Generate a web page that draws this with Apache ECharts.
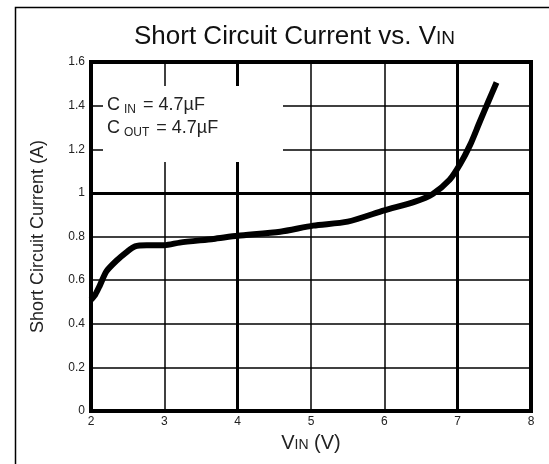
<!DOCTYPE html>
<html>
<head>
<meta charset="utf-8">
<script src="https://cdn.jsdelivr.net/npm/echarts@6/dist/echarts.min.js"></script>
<style>
html, body { margin: 0; padding: 0; background: #fff; }
#chart { width: 549px; height: 464px; }
</style>
</head>
<body>
<div id="chart"></div>
<script>
// V_IN (V) vs short circuit current (A)
const vin = [2.0, 2.06, 2.12, 2.21, 2.35, 2.49, 2.6, 2.76, 3.0, 3.21, 3.67, 4.0, 4.58, 5.03, 5.5, 6.0, 6.42, 6.66, 6.89, 7.03, 7.17, 7.3, 7.42, 7.53];
const current = [0.51, 0.535, 0.575, 0.64, 0.69, 0.73, 0.755, 0.76, 0.76, 0.772, 0.789, 0.803, 0.822, 0.85, 0.868, 0.92, 0.96, 0.995, 1.06, 1.13, 1.22, 1.325, 1.42, 1.506];
const majorX = [4, 7];
const majorY = [1];

const chart = echarts.init(document.getElementById('chart'));
const font = 'Liberation Sans, Arial, sans-serif';

chart.setOption({
    backgroundColor: '#fff',
    animation: false,
    title: {
        text: 'Short Circuit Current vs. V{s|IN}',
        left: 129,
        top: 19,
        textStyle: {
            fontFamily: font,
            fontSize: 26,
            fontWeight: 'normal',
            color: '#111',
            rich: {
                s: { fontFamily: font, fontSize: 19, color: '#111', padding: [4, 0, 0, 0] }
            }
        }
    },
    grid: {
        left: 91,
        right: 18,
        top: 62,
        bottom: 53,
        show: true,
        borderColor: '#000',
        borderWidth: 4
    },
    xAxis: {
        type: 'value',
        min: 2,
        max: 8,
        interval: 1,
        name: 'V{s|IN} (V)',
        nameLocation: 'middle',
        nameGap: 22,
        nameTextStyle: {
            fontFamily: font,
            fontSize: 20,
            color: '#222',
            rich: { s: { fontFamily: font, fontSize: 14, color: '#222', padding: [4, 0, 0, 0] } }
        },
        axisLine: { show: false },
        axisTick: { show: false },
        axisLabel: { fontFamily: font, fontSize: 12, color: '#222', margin: 5 },
        splitLine: { show: true, lineStyle: { color: '#000', width: 1.5 } }
    },
    yAxis: {
        type: 'value',
        min: 0,
        max: 1.6,
        interval: 0.2,
        name: 'Short Circuit Current (A)',
        nameLocation: 'middle',
        nameGap: 44,
        nameTextStyle: { fontFamily: font, fontSize: 18, color: '#222' },
        axisLine: { show: false },
        axisTick: { show: false },
        axisLabel: {
            fontFamily: font,
            fontSize: 12,
            color: '#222',
            margin: 6,
            formatter: v => String(+v.toFixed(1))
        },
        splitLine: { show: true, lineStyle: { color: '#000', width: 1.5 } }
    },
    series: [
        {
            type: 'line',
            data: vin.map((v, i) => [v, current[i]]),
            smooth: 0.25,
            showSymbol: false,
            lineStyle: { color: '#000', width: 6 },
            z: 5,
            markLine: {
                silent: true,
                symbol: 'none',
                label: { show: false },
                lineStyle: { color: '#000', width: 3, type: 'solid' },
                data: majorX.map(x => ({ xAxis: x })).concat(majorY.map(y => ({ yAxis: y })))
            }
        }
    ],
    graphic: [
        {
            type: 'rect',
            left: 13,
            top: 5,
            shape: { width: 545, height: 470 },
            style: { fill: 'none', stroke: '#000', lineWidth: 1.5 },
            silent: true
        },
        {
            type: 'rect',
            left: 103,
            top: 86,
            shape: { width: 180, height: 76 },
            style: { fill: '#fff' },
            z: 10
        },
        {
            type: 'text',
            left: 107,
            top: 94,
            z: 11,
            style: {
                text: 'C{s|IN} = 4.7µF\nC{s|OUT} = 4.7µF',
                font: '18px ' + font,
                fill: '#222',
                lineHeight: 23,
                rich: {
                    s: { font: '12px ' + font, fill: '#222', padding: [9, 2, 0, 4] }
                }
            }
        }
    ]
});
</script>
</body>
</html>
